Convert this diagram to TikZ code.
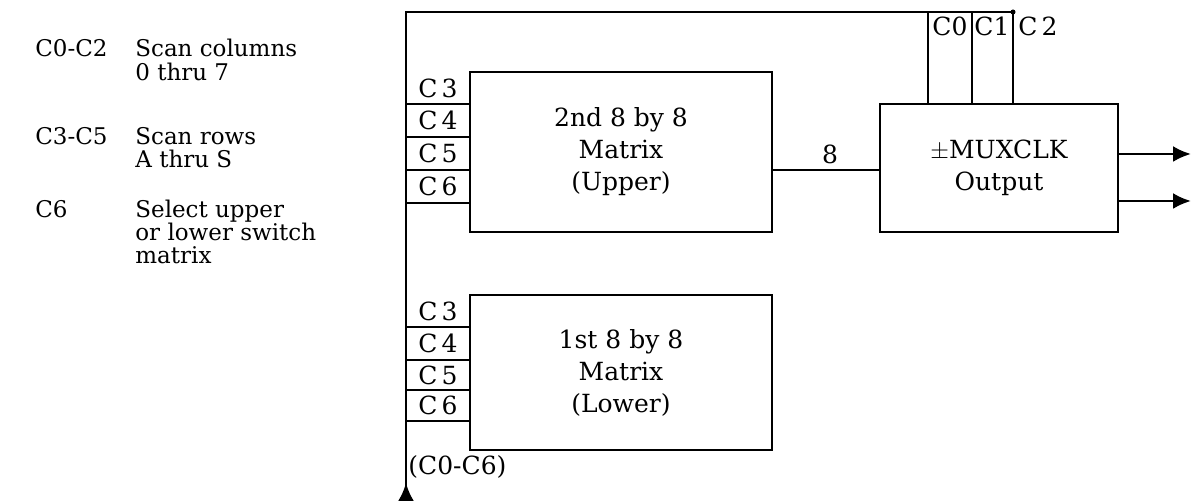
\documentclass[tikz,border=0pt]{standalone}
\usepackage{fontspec}
\setmainfont{DejaVu Serif}
\usetikzlibrary{arrows.meta}
\begin{document}
\begin{tikzpicture}[x=0.5pt,y=-0.5pt,
  wire/.style={line width=1.3pt},
  blk/.style={draw,line width=1.3pt,inner sep=0pt,align=center,
    font=\fontsize{12.5}{16}\selectfont},
  cell/.style={inner sep=0pt,font=\fontsize{12.5}{14}\selectfont},
  legend/.style={inner sep=0pt,anchor=base west,
    font=\fontsize{11.5}{13}\selectfont},
  tip/.style={-{Latex[length=9pt,width=8pt]}}]
\useasboundingbox (0,0) rectangle (1191,501);

% legend
\node[legend] (l0) at (35,57) {C0-C2};
\node[legend] (t0a) at (135,57) {Scan columns};
\node[legend] (t0b) at (135,81) {0 thru 7};
\node[legend] (l1) at (35,145) {C3-C5};
\node[legend] (t1a) at (135,145) {Scan rows};
\node[legend] (t1b) at (135,168) {A thru S};
\node[legend] (l2) at (35,218) {C6};
\node[legend] (t2a) at (135,218) {Select upper};
\node[legend] (t2b) at (135,241) {or lower switch};
\node[legend] (t2c) at (135,264) {matrix};

% blocks
\node[blk,minimum width=151pt,minimum height=80pt] (up) at (621,152)
  {2nd 8 by 8\\Matrix\\(Upper)};
\node[blk,minimum width=151pt,minimum height=77.5pt] (lo) at (621,372.5)
  {1st 8 by 8\\Matrix\\(Lower)};
\node[blk,minimum width=119pt,minimum height=64pt] (out) at (999,168)
  {$\pm$MUXCLK\\Output};

% bus
\coordinate (bb) at (406,501);
\coordinate (bt) at (406,12);
\coordinate (c2top) at (1013,12);
\draw[wire] (bb) -- (bt) -- (c2top);
\draw[tip,line width=1.3pt] (bb) -- (406,483);
\fill (c2top) circle (2.5);
\node[cell,anchor=west] (busl) at (408,467) {(C0-C6)};

% C0..C2 into output block
\coordinate (c0top) at (928,12);
\coordinate (c1top) at (972,12);
\draw[wire] (c0top) -- (c0top |- out.north);
\draw[wire] (c1top) -- (c1top |- out.north);
\draw[wire] (c2top) -- (c2top |- out.north);
\node[cell] (c0l) at (950,26) {C0};
\node[cell] (c1l) at (992,26) {C1};
\node[cell] (c2l) at (1038,26) {C\,2};

% control cells on upper block
\foreach \n/\y in {3/88,4/120.5,5/153.5,6/186.5}
  \node[cell] (u\n) at (438,\y) {C\,\n};
\foreach \y in {104,137,170,203}
  \draw[wire] (406,\y) -- (up.west |- 0,\y);

% control cells on lower block
\foreach \n/\y in {3/311,4/343.5,5/375,6/405.5}
  \node[cell] (d\n) at (438,\y) {C\,\n};
\foreach \y in {327,360,390,421}
  \draw[wire] (406,\y) -- (lo.west |- 0,\y);

% data path
\coordinate (dp) at (772,170);
\draw[wire] (dp) -- (dp -| out.west);
\node[cell] (n8) at (830,154) {8};

% outputs
\coordinate (o1) at (1191,154);
\coordinate (o2) at (1191,201);
\draw[wire,tip] (o1 -| out.east) -- (o1);
\draw[wire,tip] (o2 -| out.east) -- (o2);
\end{tikzpicture}
\end{document}
